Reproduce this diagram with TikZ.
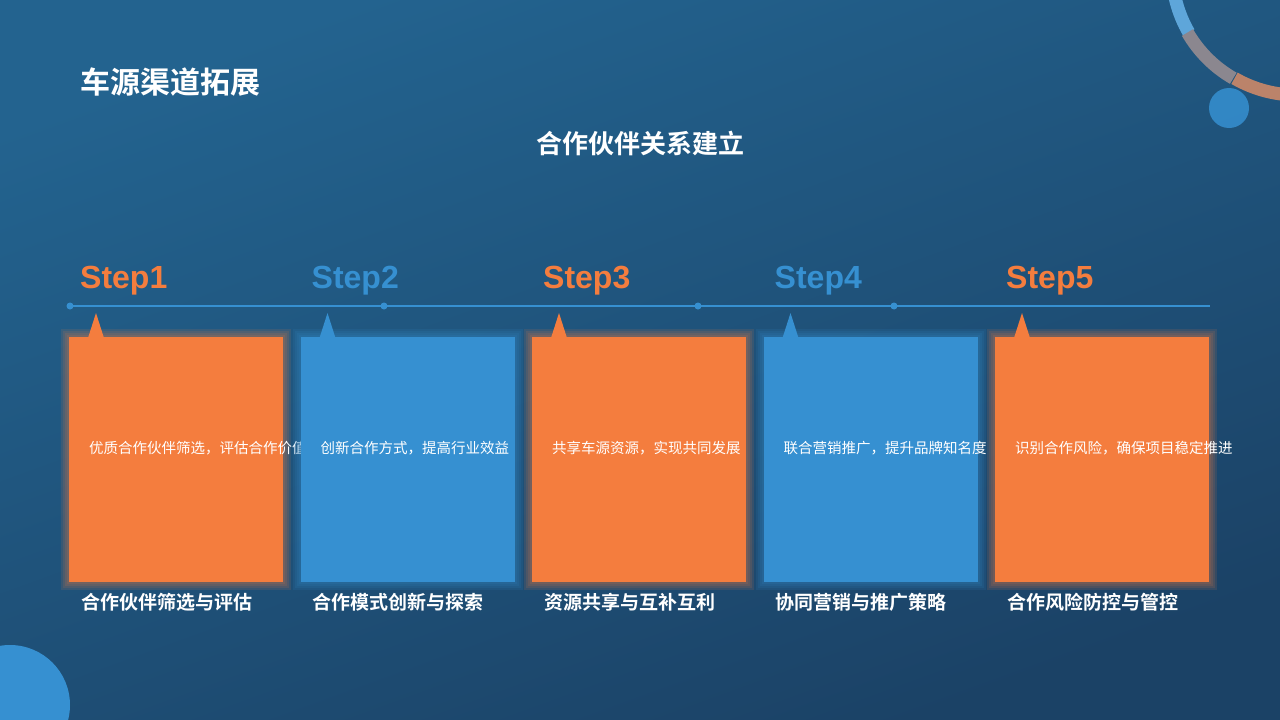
\documentclass[tikz,border=0pt]{standalone}
\usepackage{fontspec}
\setmainfont{Liberation Sans}
\newfontfamily\cjk{Noto Sans CJK SC}
\newfontfamily\cjkb{Noto Sans CJK SC Bold}
\usetikzlibrary{positioning}
\definecolor{stepor}{HTML}{F47D3E}
\definecolor{stepbl}{HTML}{3690D1}
\definecolor{bgtop}{HTML}{23638F}
\definecolor{bgbot}{HTML}{1B4266}
\tikzset{
  card/.style={fill=#1, draw=none},
  glow/.style={fill=#1, opacity=0.12, draw=none},
  steplabel/.style={anchor=west, inner sep=0pt, font=\fontsize{32}{32}\selectfont\bfseries},
  cardtext/.style={anchor=north west, inner sep=0pt, text width=170pt, text=white,
    font=\cjk\fontsize{14.5}{19}\selectfont},
  cardname/.style={anchor=west, inner sep=0pt, text=white, font=\cjkb\fontsize{19}{19}\selectfont},
  dot/.style={fill=stepbl, circle, inner sep=0pt, minimum size=7pt}
}
\begin{document}
\begin{tikzpicture}[x=1pt,y=-1pt]
  \useasboundingbox (0,0) rectangle (1280,720);
  \shade[top color=bgtop, bottom color=bgbot, shading angle=20] (0,0) rectangle (1280,720);
  \clip (0,0) rectangle (1280,720);
  % corner ornaments
  \fill[stepbl] (10,705) circle [radius=60];
  \draw[line width=13pt, color=stepbl!80!white] (1172,-30) arc [start angle=180, end angle=150, radius=125];
  \draw[line width=13pt, color=stepbl!55!stepor] (1187.5,32.5) arc [start angle=150, end angle=120, radius=125];
  \draw[line width=13pt, color=stepor!70!stepbl] (1234.5,78.3) arc [start angle=120, end angle=90, radius=125];
  \fill[stepbl, opacity=0.85] (1229,108) circle [radius=20];
  % headings
  \node[anchor=west, inner sep=0pt, text=white, font=\cjkb\fontsize{30}{30}\selectfont] (title) at (80,82) {车源渠道拓展};
  \node[inner sep=0pt, text=white, font=\cjkb\fontsize{26}{26}\selectfont] (subtitle) at (640,143) {合作伙伴关系建立};
  % timeline
  \coordinate (tlA) at (68,306);
  \coordinate (tlB) at (1210,306);
  \draw[stepbl, line width=2pt] (tlA) -- (tlB);
  \foreach \px [count=\i] in {70,384,698,894}
    \node[dot] (d\i) at (\px,306) {};
  % cards
  \foreach \i/\col/\body/\name in {
      1/stepor/{优质合作伙伴筛选，评估合作价值}/合作伙伴筛选与评估,
      2/stepbl/{创新合作方式，提高行业效益}/合作模式创新与探索,
      3/stepor/{共享车源资源，实现共同发展}/资源共享与互补互利,
      4/stepbl/{联合营销推广，提升品牌知名度}/协同营销与推广策略,
      5/stepor/{识别合作风险，确保项目稳定推进}/合作风险防控与管控}{
    \pgfmathsetmacro{\bx}{69+231.5*(\i-1)}
    \foreach \g in {2,4,6,8}
      \fill[glow=\col] (\bx-\g,337-\g) rectangle (\bx+214+\g,582+\g);
    \fill[card=\col] (\bx,337) rectangle (\bx+214,582);
    \fill[card=\col] (\bx+19,338) -- (\bx+27,313) -- (\bx+35,338) -- cycle;
    \node[steplabel, text=\col] (step\i) at (\bx+11,281) {Step\i};
    \node[cardtext] (body\i) at (\bx+20,441) {\body};
    \node[cardname] (name\i) at (\bx+12,602) {\name};
  }
\end{tikzpicture}
\end{document}
